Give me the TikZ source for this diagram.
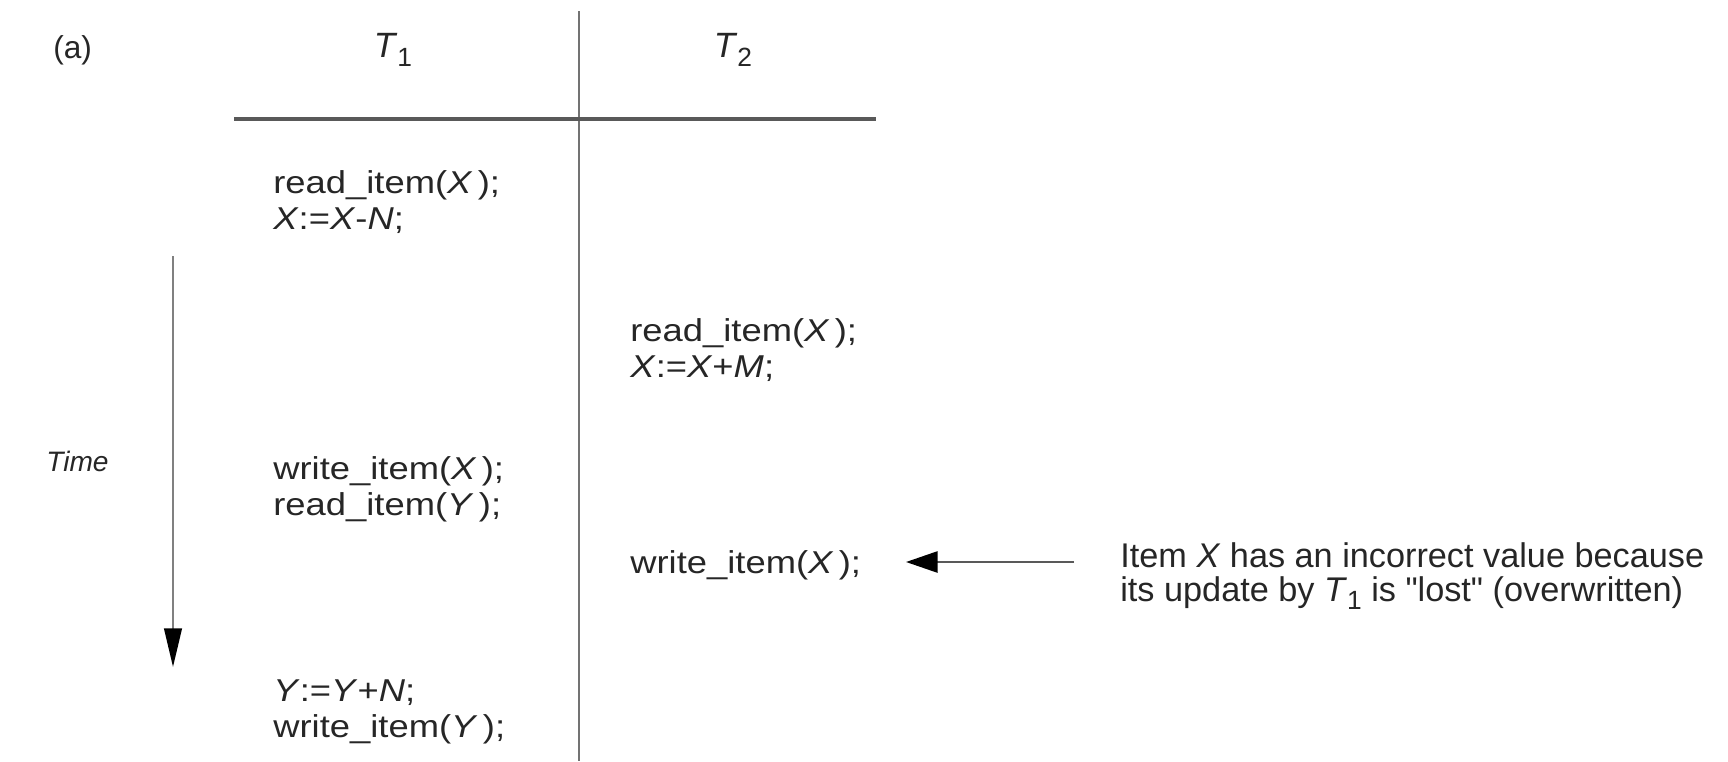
\documentclass[tikz,border=0pt]{standalone}
\usepackage{fontspec}
\newfontfamily\colfont{Liberation Sans}[FakeStretch=1.15]
\newfontfamily\notefont{Liberation Sans}
\usetikzlibrary{arrows.meta}
\begin{document}
\begin{tikzpicture}[x=0.02cm,y=-0.02cm,
  txt/.style={anchor=west,align=left,inner sep=0,text=black!85,font=\colfont\fontsize{18}{20.5}\selectfont},
  note/.style={anchor=west,align=left,inner sep=0,text=black!85,font=\notefont\fontsize{19.5}{19.5}\selectfont},
  head/.style={anchor=center,inner sep=0,text=black!85,font=\notefont\fontsize{20}{20}\selectfont},
  rule/.style={draw=black!55,line width=1.6pt},
  timearrow/.style={draw=black!50,line width=1.4pt,-{Triangle[length=22pt,width=10pt,color=black]}},
  notearrow/.style={draw=black!65,line width=1.4pt,-{Triangle[length=18pt,width=12pt,color=black]}}]
\useasboundingbox (0,0) rectangle (1728,761);
\newcommand{\sub}[1]{\raisebox{-0.45ex}{\fontsize{15}{16}\selectfont #1}}
% header
\node[head,anchor=west,font=\notefont\fontsize{18}{18}\selectfont] (a) at (53,50) {(a)};
\node[head] (t1) at (393,50) {\textit{T}\sub{1}};
\node[head] (t2) at (733,50) {\textit{T}\sub{2}};
% rules
\coordinate (vtop) at (579,11);
\coordinate (vbot) at (579,761);
\coordinate (hl) at (234,119);
\coordinate (hr) at (876,119);
\draw[rule] (vtop) -- (vbot);
\draw[rule,line width=2pt,draw=black!65] (hl) -- (hr);
% T1 column
\node[txt] (b1) at (273,202) {read\_item(\textit{X}\,);\\\textit{X}:=\textit{X}-\textit{N};};
\node[txt] (b2) at (273,489) {write\_item(\textit{X}\,);\\read\_item(\textit{Y}\,);};
\node[txt] (b3) at (273,712) {\textit{Y}:=\textit{Y}+\textit{N};\\write\_item(\textit{Y}\,);};
% T2 column
\node[txt] (c1) at (630,350) {read\_item(\textit{X}\,);\\\textit{X}:=\textit{X}+\textit{M};};
\node[txt] (c2) at (630,565) {write\_item(\textit{X}\,);};
% time
\node[note,font=\notefont\fontsize{16}{16}\selectfont] (time) at (46,461) {\textit{Time}};
\coordinate (ttop) at (173,256);
\coordinate (tbot) at (173,667);
\draw[timearrow] (ttop) -- (tbot);
% note
\node[note] (notetext) at (1120,576) {Item \textit{X} has an incorrect value because\\its update by \textit{T}\sub{1} is "lost" (overwritten)};
\coordinate (ntail) at (1074,562);
\coordinate (nhead) at (906,562);
\draw[notearrow] (ntail) -- (nhead);
\end{tikzpicture}
\end{document}
